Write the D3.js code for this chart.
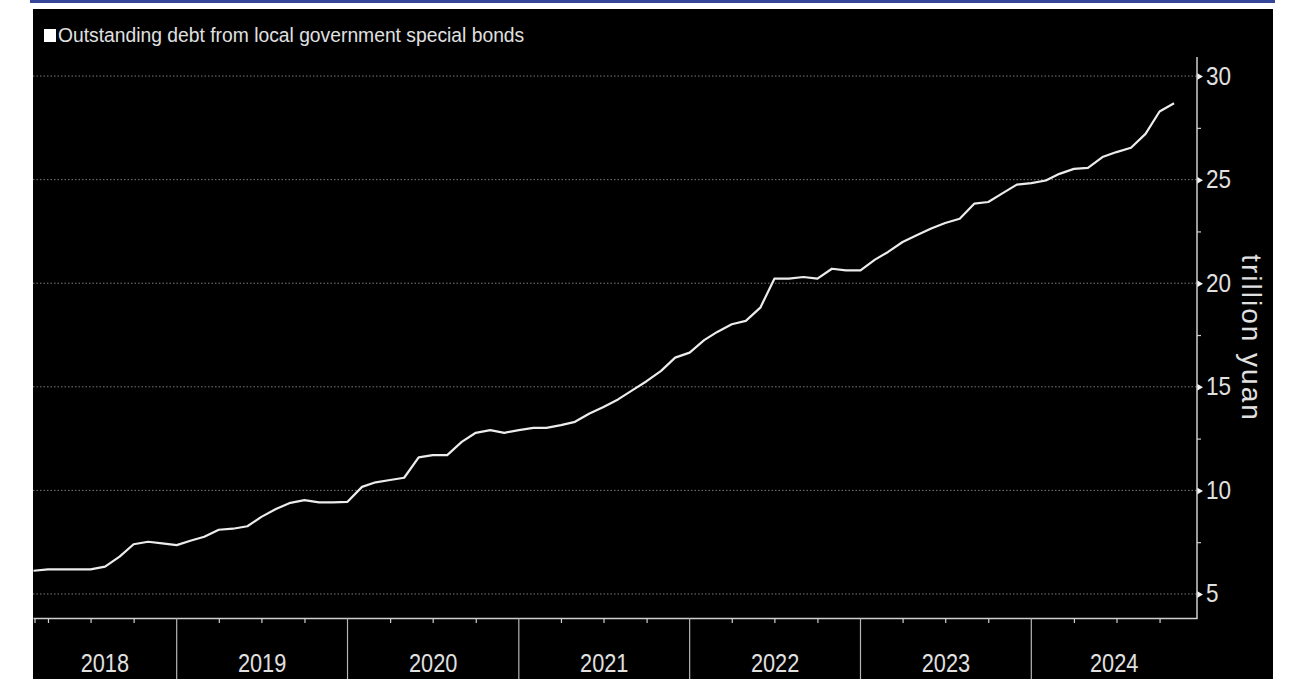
<!DOCTYPE html>
<html>
<head>
<meta charset="utf-8">
<script src="https://cdn.jsdelivr.net/npm/d3@7"></script>
<style>
  body { margin: 0; background: #fff; }
  svg { display: block; }
  text { fill: #e0e0e0; }
</style>
</head>
<body>
<div id="chart"></div>
<script>
// series: outstanding local government special bonds, trillion yuan, monthly
const seriesName = "Outstanding debt from local government special bonds";
const axisTitle = "trillion yuan";
const firstMonth = new Date(2018, 2, 1);
const debt = [
  6.12, 6.19, 6.19, 6.19, 6.19, 6.32, 6.80, 7.40, 7.52, 7.44,
  7.36, 7.58, 7.76, 8.10, 8.15, 8.27, 8.72, 9.10, 9.40, 9.53,
  9.42, 9.42, 9.45, 10.17, 10.39, 10.50, 10.61, 11.59, 11.70, 11.70,
  12.34, 12.78, 12.91, 12.78, 12.91, 13.02, 13.02, 13.15, 13.31, 13.71,
  14.03, 14.39, 14.84, 15.27, 15.77, 16.41, 16.65, 17.25, 17.65, 18.02,
  18.18, 18.82, 20.22, 20.22, 20.30, 20.22, 20.70, 20.62, 20.62, 21.14,
  21.51, 21.99, 22.31, 22.64, 22.91, 23.11, 23.84, 23.92, 24.35, 24.76,
  24.83, 24.96, 25.28, 25.52, 25.57, 26.09, 26.33, 26.54, 27.21, 28.29,
  28.69
];
const yTicks = [5, 10, 15, 20, 25, 30];
const yMinorTicks = [7.5, 12.5, 17.5, 22.5, 27.5];
const years = [2018, 2019, 2020, 2021, 2022, 2023, 2024];

const data = debt.map((v, i) => ({ date: d3.timeMonth.offset(firstMonth, i), value: v }));

const W = 1291, H = 679;
const plot = { left: 33, right: 1197, top: 57, bottom: 618 };
const txtFont = '"Liberation Sans", Arial, sans-serif';
const narrow = 0.87; // squeeze digits, the original face is condensed

const svg = d3.select("#chart").append("svg")
    .attr("width", W)
    .attr("height", H);

// blue rule on top + black panel
svg.append("rect")
    .attr("x", 30).attr("y", 0)
    .attr("width", 1245).attr("height", 3)
    .attr("fill", "#36469b");
svg.append("rect")
    .attr("x", 33).attr("y", 9)
    .attr("width", 1240).attr("height", H - 9)
    .attr("fill", "#000");

const x = d3.scaleTime()
    .domain([new Date(2018, 1, 28), new Date(2024, 11, 20)])
    .range([plot.left, plot.right]);
const y = d3.scaleLinear()
    .domain([3.84, 30.92])
    .range([plot.bottom, plot.top]);

// dotted gridlines
svg.append("g").selectAll("line")
    .data(yTicks)
    .join("line")
    .attr("x1", plot.left)
    .attr("x2", plot.right)
    .attr("y1", d => y(d))
    .attr("y2", d => y(d))
    .attr("stroke", "#7a7a7a")
    .attr("stroke-width", 1)
    .attr("stroke-dasharray", "1.5,2");

// the series
const line = d3.line()
    .x(d => x(d.date))
    .y(d => y(d.value));

svg.append("path")
    .datum(data)
    .attr("fill", "none")
    .attr("stroke", "#ececec")
    .attr("stroke-width", 2.2)
    .attr("stroke-linejoin", "round")
    .attr("d", line);

// x axis: quarter ticks, year separators, year labels
const quarterTicks = d3.timeMonth.range(new Date(2018, 3, 1), new Date(2024, 11, 1))
    .filter(d => d.getMonth() % 3 === 0 && d.getMonth() !== 0);

const xAxisG = svg.append("g")
    .attr("transform", `translate(0,${plot.bottom})`)
    .call(d3.axisBottom(x).tickValues(quarterTicks).tickSize(5).tickSizeOuter(0).tickFormat(""));
xAxisG.select(".domain").attr("stroke", "#cfcfcf").attr("stroke-width", 1.5);
xAxisG.selectAll(".tick line").attr("stroke", "#cfcfcf").attr("stroke-width", 1.2);

svg.append("line")
    .attr("x1", 35).attr("x2", 35)
    .attr("y1", plot.bottom).attr("y2", plot.bottom + 5)
    .attr("stroke", "#cfcfcf").attr("stroke-width", 1.2);

svg.append("g").selectAll("line")
    .data(years.slice(1))
    .join("line")
    .attr("x1", d => x(new Date(d, 0, 1)))
    .attr("x2", d => x(new Date(d, 0, 1)))
    .attr("y1", plot.bottom)
    .attr("y2", H)
    .attr("stroke", "#b5b5b5")
    .attr("stroke-width", 1.2);

svg.append("g").selectAll("text")
    .data(years)
    .join("text")
    .attr("transform", d => {
        const a = Math.max(x(new Date(d, 0, 1)), plot.left);
        const b = Math.min(x(new Date(d + 1, 0, 1)), plot.right);
        return `translate(${(a + b) / 2},672) scale(${narrow},1)`;
    })
    .attr("text-anchor", "middle")
    .style("font-family", txtFont)
    .style("font-size", "25px")
    .text(d => d);

// right y axis
const yAxisG = svg.append("g")
    .attr("transform", `translate(${plot.right},0)`)
    .call(d3.axisRight(y).tickValues(yTicks).tickSize(0).tickPadding(0).tickFormat(d3.format("d")));
yAxisG.select(".domain").remove();
yAxisG.selectAll(".tick text")
    .attr("x", 0)
    .attr("transform", `translate(9,0) scale(0.9,1)`)
    .attr("fill", "#e0e0e0")
    .style("font-family", txtFont)
    .style("font-size", "25px");
yAxisG.selectAll(".tick").append("path")
    .attr("d", "M0,-3.5L6,0L0,3.5Z")
    .attr("fill", "#f2f2f2");

const yMinorG = svg.append("g")
    .attr("transform", `translate(${plot.right},0)`)
    .call(d3.axisRight(y).tickValues(yMinorTicks).tickSize(4).tickFormat(""));
yMinorG.select(".domain").remove();
yMinorG.selectAll(".tick line").attr("stroke", "#cfcfcf").attr("stroke-width", 1.2);

svg.append("line")
    .attr("x1", plot.right).attr("x2", plot.right)
    .attr("y1", plot.top).attr("y2", plot.bottom + 0.75)
    .attr("stroke", "#cfcfcf")
    .attr("stroke-width", 1.5);

// axis title
svg.append("text")
    .attr("transform", "translate(1242,338) rotate(90)")
    .attr("text-anchor", "middle")
    .style("font-family", txtFont)
    .style("font-size", "28px")
    .style("letter-spacing", "2px")
    .text(axisTitle);

// legend
svg.append("rect")
    .attr("x", 44).attr("y", 29)
    .attr("width", 12).attr("height", 13)
    .attr("fill", "#fff");
svg.append("text")
    .attr("x", 58)
    .attr("y", 42)
    .style("font-family", txtFont)
    .style("font-size", "19.3px")
    .text(seriesName);
</script>
</body>
</html>
